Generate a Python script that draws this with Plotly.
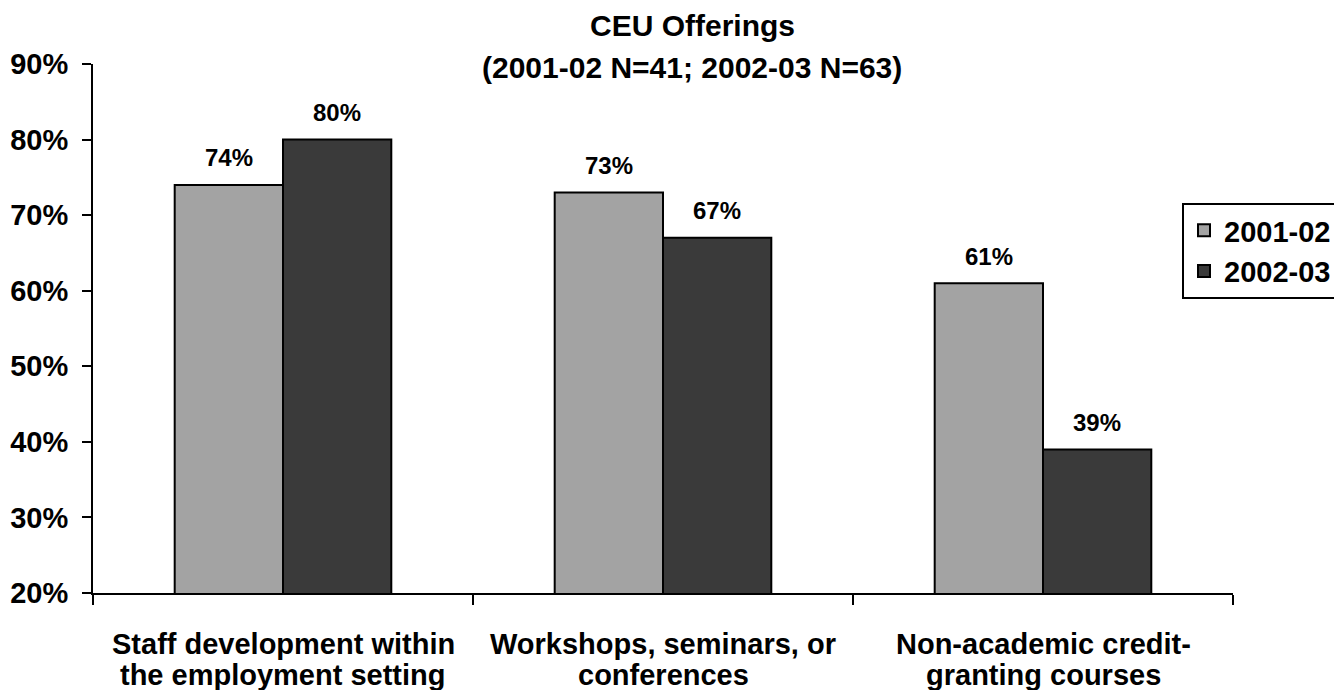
import plotly.graph_objects as go

categories = ["Staff development within<br>the employment setting",
              "Workshops, seminars, or<br>conferences",
              "Non-academic credit-<br>granting courses"]
series_names = ["2001-02", "2002-03"]
values_2001 = [74, 73, 61]
values_2002 = [80, 67, 39]
colors = ["#a3a3a3", "#3a3a3a"]
title_line1 = "CEU Offerings"
title_line2 = "(2001-02 N=41; 2002-03 N=63)"

FONT = "Liberation Sans, Arial, sans-serif"
# page body has an 8px margin; figure is sized so it fills the 1342x690 window
OFF = 8
W, H = 1342 - OFF, 690 - OFF
L, R, T, B = 85, 109, 56, 97
plot_w = W - L - R
plot_h = H - T - B

fig = go.Figure()
for name, vals, col in zip(series_names, [values_2001, values_2002], colors):
    fig.add_trace(go.Bar(
        x=categories, y=vals, name=f"<b>{name}</b>",
        marker=dict(color=col, line=dict(color="black", width=2)),
    ))

def px_to_paper_x(px):
    return (px - OFF - L) / plot_w

def px_to_paper_y(py):
    return (H - B - (py - OFF)) / plot_h

# data labels above each bar
bar_px = plot_w / len(categories) * (1 - 0.43) / 2
annotations = []
for si, vals in enumerate([values_2001, values_2002]):
    offset = (si - 0.5) * bar_px
    for cat, v in zip(categories, vals):
        annotations.append(dict(
            x=cat, y=v, xref="x", yref="y", text=f"<b>{v}%</b>",
            showarrow=False, xshift=offset, yshift=27, yanchor="middle",
            font=dict(family=FONT, size=24, color="black")))

# category labels (two tight lines each)
for cat in categories:
    for li, line in enumerate(cat.split("<br>")):
        annotations.append(dict(
            x=cat, y=px_to_paper_y(644 + 31 * li), xref="x", yref="paper",
            text=f"<b>{line}</b>", showarrow=False,
            xanchor="center", yanchor="middle",
            font=dict(family=FONT, size=29, color="black")))

annotations.append(dict(x=px_to_paper_x(692), y=px_to_paper_y(26), xref="paper", yref="paper",
                        text=f"<b>{title_line1}</b>", showarrow=False,
                        xanchor="center", yanchor="middle",
                        font=dict(family=FONT, size=30, color="black")))
annotations.append(dict(x=px_to_paper_x(692), y=px_to_paper_y(67), xref="paper", yref="paper",
                        text=f"<b>{title_line2}</b>", showarrow=False,
                        xanchor="center", yanchor="middle",
                        font=dict(family=FONT, size=30, color="black")))

fig.update_layout(
    width=W, height=H,
    barmode="group", bargap=0.43, bargroupgap=0,
    plot_bgcolor="white", paper_bgcolor="white",
    margin=dict(l=L, r=R, t=T, b=B, autoexpand=False),
    font=dict(family=FONT, color="black"),
    annotations=annotations,
    legend=dict(x=(1182 - OFF) / W, xref="container", y=1 - (203 - OFF) / H, yref="container",
                xanchor="left", yanchor="top",
                bordercolor="black", borderwidth=2, bgcolor="white",
                font=dict(family=FONT, size=29, color="black"),
                traceorder="normal", itemwidth=30),
    showlegend=True,
)
fig.update_yaxes(range=[20, 90], dtick=10, ticksuffix="%</b>", tickprefix="<b>",
                 tickfont=dict(family=FONT, size=29, color="black"),
                 showgrid=False, showline=True, linecolor="black", linewidth=2,
                 ticks="outside", ticklen=9, tickcolor="black", tickwidth=2,
                 ticklabelstandoff=8, zeroline=False, automargin=False)
fig.update_xaxes(showticklabels=False,
                 showline=True, linecolor="black", linewidth=2,
                 ticks="outside", ticklen=10, tickcolor="black", tickwidth=2,
                 tickson="boundaries", automargin=False)
fig.write_html("out.html")
